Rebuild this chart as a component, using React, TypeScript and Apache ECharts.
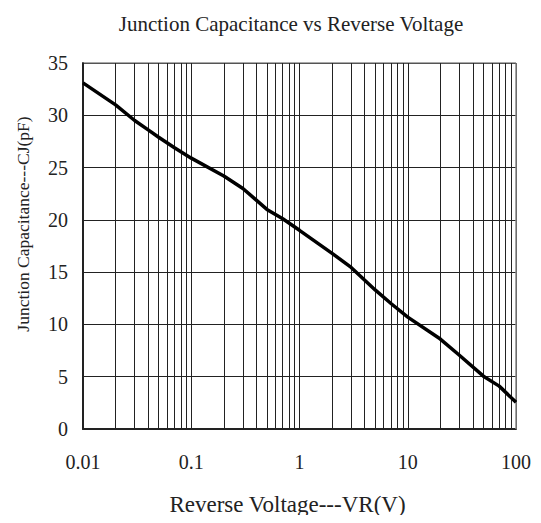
import React, { useEffect, useRef } from "react";
import * as echarts from "echarts";

const voltages = [0.01, 0.02, 0.03, 0.04, 0.05, 0.07, 0.1, 0.2, 0.3, 0.5, 0.7, 1, 2, 3, 5, 7, 10, 20, 30, 50, 70, 100];
const capacitance = [33.1, 31.0, 29.5, 28.6, 27.9, 26.9, 25.9, 24.2, 23.0, 21.0, 20.1, 19.0, 16.8, 15.45, 13.3, 12.0, 10.7, 8.6, 7.05, 5.05, 4.1, 2.55];
const decades = [0.01, 0.1, 1, 10];
const minorMultipliers = [2, 3, 4, 5, 6, 7, 8, 9];
const title = "Junction Capacitance vs Reverse Voltage";
const xName = "Reverse Voltage---VR(V)";
const yName = "Junction Capacitance---CJ(pF)";

const FONT = "Liberation Serif";

export default function App() {
  const ref = useRef<HTMLDivElement>(null);
  useEffect(() => {
    if (!ref.current) return;
    const chart = echarts.init(ref.current, null, { renderer: "svg" });
    const gridLines: number[] = [];
    decades.forEach((d) => {
      gridLines.push(d);
      minorMultipliers.forEach((m) => gridLines.push(+(d * m).toPrecision(3)));
    });
    chart.setOption({
      animation: false,
      backgroundColor: "#ffffff",
      title: {
        text: title,
        left: 286,
        top: 8,
        textAlign: "center",
        textStyle: { fontFamily: FONT, fontSize: 21, fontWeight: "normal", color: "#222" },
      },
      graphic: [
        {
          type: "text",
          x: 23,
          y: 224,
          rotation: Math.PI / 2,
          style: {
            text: yName,
            fontFamily: FONT,
            fontSize: 17.5,
            fill: "#222",
            align: "center",
            verticalAlign: "middle",
          },
        },
      ],
      grid: { left: 83, top: 63, right: 25, bottom: 94 },
      xAxis: {
        type: "log",
        logBase: 10,
        min: 0.01,
        max: 100,
        name: xName,
        nameLocation: "middle",
        nameGap: 64,
        nameTextStyle: { fontFamily: FONT, fontSize: 23, color: "#222", padding: [0, 24, 0, 0] },
        axisLine: { show: true, lineStyle: { color: "#222", width: 2 } },
        axisTick: { show: false },
        splitLine: { show: true, lineStyle: { color: "#222", width: 1 } },
        axisLabel: {
          fontFamily: FONT,
          fontSize: 20,
          color: "#222",
          margin: 23,
          formatter: (v: number) => String(+v.toPrecision(3)),
        },
      },
      yAxis: {
        type: "value",
        min: 0,
        max: 35,
        interval: 5,
        axisLine: { show: true, lineStyle: { color: "#222", width: 2 } },
        axisTick: { show: false },
        splitLine: { show: true, lineStyle: { color: "#222", width: 1 } },
        axisLabel: { fontFamily: FONT, fontSize: 20, color: "#222", margin: 15, padding: [4, 0, 0, 0] },
      },
      series: [
        {
          type: "line",
          data: voltages.map((v, i) => [v, capacitance[i]]),
          showSymbol: false,
          symbol: "none",
          lineStyle: { color: "#000", width: 3.5 },
          z: 5,
          markLine: {
            silent: true,
            symbol: ["none", "none"],
            label: { show: false },
            lineStyle: { color: "#222", width: 1, type: "solid" },
            data: gridLines.map((g) => ({ xAxis: g })),
          },
        },
        {
          type: "line",
          data: [[100, 0], [100, 35]],
          showSymbol: false,
          symbol: "none",
          lineStyle: { color: "#888", width: 1.5 },
        },
        {
          type: "line",
          data: [[0.01, 35], [100, 35]],
          showSymbol: false,
          symbol: "none",
          lineStyle: { color: "#666", width: 1.5 },
        },
      ],
    });
    return () => chart.dispose();
  }, []);
  return <div ref={ref} style={{ width: 541, height: 523, margin: -8 }} />;
}
